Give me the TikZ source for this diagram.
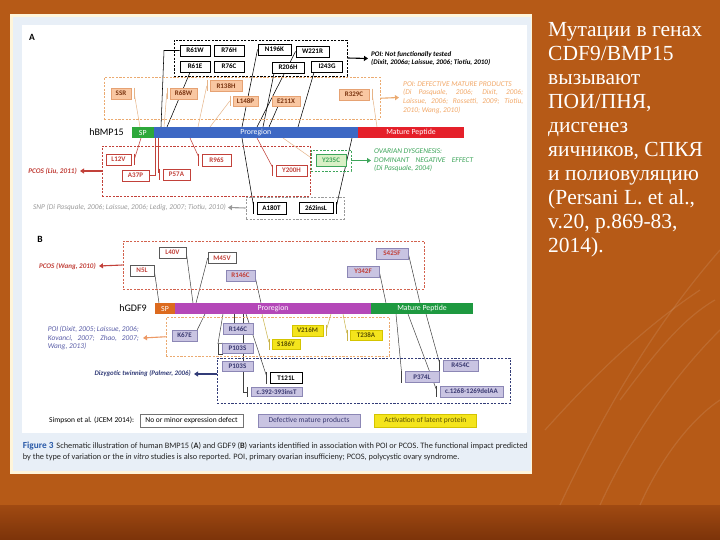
\documentclass[tikz,border=0pt]{standalone}
\usepackage{fontspec}
\setmainfont{Carlito}
\newfontfamily\rufont{Liberation Serif}
\usetikzlibrary{arrows.meta}
\pgfdeclarelayer{bg}\pgfdeclarelayer{conn}
\pgfsetlayers{bg,conn,main}
\definecolor{bgTop}{HTML}{B65A17}
\definecolor{bgMid}{HTML}{CD6C1E}
\definecolor{bgBand}{HTML}{A04A12}
\definecolor{bgBot}{HTML}{7C3309}
\definecolor{cream}{HTML}{FFF5DA}
\definecolor{pblue}{HTML}{E8EFF7}
\definecolor{spG}{HTML}{2DA83A}
\definecolor{proBl}{HTML}{3D68C4}
\definecolor{matRd}{HTML}{E5202A}
\definecolor{spO}{HTML}{DC6A1E}
\definecolor{proM}{HTML}{B447B8}
\definecolor{matG}{HTML}{1E9940}
\definecolor{oFill}{HTML}{F9C7A2}
\definecolor{oBord}{HTML}{E6A273}
\definecolor{oTxt}{HTML}{7A3410}
\definecolor{oDash}{HTML}{EBAA70}
\definecolor{oLine}{HTML}{E6B488}
\definecolor{oText}{HTML}{F2A868}
\definecolor{rC}{HTML}{C2413A}
\definecolor{rB}{HTML}{D2624E}
\definecolor{gC}{HTML}{3DA55A}
\definecolor{gFill}{HTML}{D9F0C6}
\definecolor{snpC}{HTML}{9A9A9A}
\definecolor{lavF}{HTML}{C9C4E2}
\definecolor{lavB}{HTML}{8C87B5}
\definecolor{lavT}{HTML}{3B3A72}
\definecolor{yelF}{HTML}{F4E41C}
\definecolor{yelB}{HTML}{D4C400}
\definecolor{yelT}{HTML}{5C5200}
\definecolor{yLine}{HTML}{C9B347}
\definecolor{navy}{HTML}{323C78}
\definecolor{poiB}{HTML}{5A5EA8}
\definecolor{capB}{HTML}{2A5AA8}
\begin{document}
\begin{tikzpicture}[x=1pt,y=-1pt,
  bx/.style 2 args={minimum width=#1pt, minimum height=#2pt},
  lab/.style={inner sep=0pt, font=\fontsize{7}{7.5}\selectfont\bfseries},
  mb/.style={lab, draw=black, line width=0.9pt, fill=white, text=black},
  ob/.style={lab, draw=oBord, line width=0.5pt, fill=oFill, text=oTxt},
  rb/.style={lab, draw=rC, line width=0.6pt, fill=white, text=rC},
  wb/.style={lab, draw=black!65, line width=0.6pt, fill=white, text=rC},
  lb/.style={lab, draw=lavB, line width=0.6pt, fill=lavF, text=lavT},
  lbr/.style={lb, text=rC},
  yb/.style={lab, draw=yelB, line width=0.5pt, fill=yelF, text=yelT},
  bar/.style={inner sep=0pt, minimum height=11pt, text=white, font=\fontsize{7.8}{8}\selectfont},
  frame/.style={inner sep=0pt, dashed, dash pattern=on 2.2pt off 1.4pt},
  kl/.style={line width=0.55pt, black},
  ol/.style={line width=0.5pt, oLine},
  rl/.style={line width=0.55pt, rC},
  gl/.style={line width=0.5pt, black!75},
  yl/.style={line width=0.5pt, yLine},
  arr/.style={line width=1.1pt, -{Triangle[length=4pt,width=5pt]}},
  ttl/.style={inner sep=0pt, font=\fontsize{7.4}{8.6}\selectfont\itshape},
  streak/.style={white, opacity=0.10, line width=1.2pt}
]
\useasboundingbox (0,0) rectangle (720,540);
\begin{pgfonlayer}{bg}
\shade[top color=bgTop, middle color=bgMid, bottom color=bgTop] (0,0) rectangle (720,505);
\shade[top color=bgBand, bottom color=bgBot] (0,505) rectangle (720,540);
\draw[streak] (560,505) .. controls (600,420) and (650,330) .. (720,250);
\draw[streak] (600,505) .. controls (630,440) and (670,380) .. (720,330);
\draw[streak] (545,430) .. controls (590,380) and (640,330) .. (700,290);
\draw[streak] (640,505) .. controls (660,460) and (690,420) .. (720,400);
\draw[streak] (620,400) .. controls (650,360) and (680,320) .. (715,300);
\fill[cream] (10,14) rectangle (532,474);
\fill[pblue] (12.5,17.5) rectangle (530.5,471);
\fill[white] (22,25) rectangle (527,433);
\end{pgfonlayer}

% ================= PANEL A =================
\node[font=\fontsize{9.5}{10}\selectfont\bfseries, inner sep=0] (labA) at (32,37) {A};

\node[frame, draw=black, line width=0.9pt, bx={173}{36}] (kD) at (260.5,58) {};
\node[mb, bx={30}{11}] (R61W) at (195,50.5) {R61W};
\node[mb, bx={30}{11}] (R76H) at (229,50.5) {R76H};
\node[mb, bx={30}{11}] (R61E) at (195,66.5) {R61E};
\node[mb, bx={30}{11}] (R76C) at (229,66.5) {R76C};
\node[mb, bx={33}{11}] (N196K) at (274.5,49.5) {N196K};
\node[mb, bx={33}{11}] (W221R) at (312.5,51.5) {W221R};
\node[mb, bx={32}{11}] (R206H) at (288,67.5) {R206H};
\node[mb, bx={31}{11}] (I243G) at (327,66.5) {I243G};
\node[anchor=west, align=left, inner sep=0, font=\fontsize{7}{8.8}\selectfont\bfseries\itshape] (kT) at (371,58.5)
  {POI: Not functionally tested\\(Dixit, 2006a; Laissue, 2006; Tiotiu, 2010)};
\draw[arr, black] (kD.east) -- ([xshift=-3pt]kT.west);

\node[frame, draw=oDash, line width=0.7pt, bx={276}{41.5}] (oD) at (242,98.25) {};
\node[ob, bx={20}{11}] (SSR) at (121,93.5) {SSR};
\node[ob, bx={27}{11}] (R68W) at (183.5,93.5) {R68W};
\node[ob, bx={32}{10.5}] (R138H) at (226,86) {R138H};
\node[ob, bx={25}{10}] (L148P) at (245.5,101) {L148P};
\node[ob, bx={28}{10}] (E211X) at (286,101) {E211X};
\node[ob, bx={30}{11}] (R329C) at (354,94.5) {R329C};
\node[ttl, anchor=west, align=left, text=oText] (oT) at (403,97.5)
  {POI: DEFECTIVE MATURE PRODUCTS\\\makebox[120pt][s]{(Di Pasquale, 2006; Dixit, 2006;}\\\makebox[120pt][s]{Laissue, 2006; Rossetti, 2009; Tiotiu,}\\2010; Wang, 2010)};
\draw[arr, oDash] (oD.east) -- ([xshift=-4pt]oT.west);

\node[bar, fill=spG, bx={21.5}{11}] (spA) at (142.75,132.5) {SP};
\node[bar, fill=proBl, bx={204.5}{11}] (proA) at (255.75,132.5) {Proregion};
\node[bar, fill=matRd, bx={106}{11}] (matA) at (411,132.5) {Mature Peptide};
\node[anchor=east, inner sep=0, font=\fontsize{10}{11}\selectfont] (hB) at (124,132.5) {hBMP15};

\node[frame, draw=rC, line width=0.8pt, bx={208}{50}] (rD) at (206,171) {};
\node[rb, bx={25}{11}] (L12V) at (118.5,159.5) {L12V};
\node[rb, bx={27}{11}] (A37P) at (135.5,175.5) {A37P};
\node[rb, bx={27}{11}] (P57A) at (176.5,174.5) {P57A};
\node[rb, bx={29}{12}] (R96S) at (216.5,160) {R96S};
\node[rb, bx={31}{11}] (Y200H) at (291.5,170.5) {Y200H};
\node[anchor=east, inner sep=0, text=rC, font=\fontsize{7.2}{8}\selectfont\bfseries\itshape] (pcA) at (77,171) {PCOS (Liu, 2011)};
\draw[arr, rC] (rD.west) -- ([xshift=3pt]pcA.east);

\node[frame, draw=gC, line width=0.7pt, bx={40}{21}] (gD) at (331,160.5) {};
\node[lab, draw=gC, line width=0.5pt, fill=gFill, text=gC, bx={30}{12}] (Y235C) at (331,160) {Y235C};
\node[ttl, anchor=west, align=left, text=gC] (gT) at (374,160.5)
  {OVARIAN DYSGENESIS:\\\makebox[99pt][s]{DOMINANT NEGATIVE EFFECT}\\(Di Pasquale, 2004)};
\draw[arr, gC] (gD.east) -- ([xshift=-3pt]gT.west);

\node[frame, draw=snpC, line width=0.7pt, bx={98}{22}] (snD) at (295,208) {};
\node[mb, bx={29}{12}] (A180T) at (271.5,208) {A180T};
\node[mb, bx={34}{11}] (I262) at (316,208) {262insL};
\node[ttl, anchor=east, text=snpC] (snT) at (226,207.5) {SNP (Di Pasquale, 2006; Laissue, 2006; Ledig, 2007; Tiotiu, 2010)};
\draw[arr, snpC] (snD.west) -- ([xshift=2pt]snT.east);

\begin{pgfonlayer}{conn}
% black connectors
\draw[kl] (R61W.west) -- (164,50.5) -- (161,127);
\draw[kl] ([xshift=-5pt]R61E.south) -- (167,127);
\draw[kl] (N196K.west) -- (242,127);
\draw[kl] (W221R.west) -- (257,127);
\draw[kl] ([xshift=-14pt]R206H.south) -- (263,127);
\draw[kl] ([xshift=-13pt]I243G.south) -- (298,127);
\draw[kl] ([xshift=-8pt]E211X.south) -- (269,127);
\draw[kl] (242,138) -- ([xshift=-3pt,yshift=2pt]A180T.west);
\draw[kl] ([xshift=-3pt]A180T.north west) -- ([xshift=-3pt]A180T.south west);
\draw[kl] (352,138) -- ([xshift=3pt,yshift=2pt]I262.east);
\draw[kl] ([xshift=3pt]I262.north east) -- ([xshift=3pt]I262.south east);
% orange connectors
\draw[ol] ([xshift=3pt]SSR.east) -- (140,127);
\draw[ol] ([xshift=3pt]SSR.north east) -- ([xshift=3pt]SSR.south east);
\draw[ol] ([xshift=-3pt]R68W.west) -- (164,127);
\draw[ol] ([xshift=-3pt]R68W.north west) -- ([xshift=-3pt]R68W.south west);
\draw[ol] ([xshift=-3pt]R138H.west) -- (198,127);
\draw[ol] ([xshift=-3pt]R138H.north west) -- ([xshift=-3pt]R138H.south west);
\draw[ol] ([xshift=-3pt]L148P.west) -- (210,127);
\draw[ol] ([xshift=-3pt]L148P.north west) -- ([xshift=-3pt]L148P.south west);
\draw[ol] ([xshift=3pt]R329C.east) -- (377,127);
\draw[ol] ([xshift=3pt]R329C.north east) -- ([xshift=3pt]R329C.south east);
\draw[ol] (283,138) -- ([yshift=3pt]gD.west);
% red connectors
\draw[rl] (141,138) -- ([xshift=3pt]L12V.east);
\draw[rl] ([xshift=3pt]L12V.north east) -- ([xshift=3pt]L12V.south east);
\draw[rl] (155,138) |- (A37P.east);
\draw[rl] (158,138) |- ([xshift=-3pt,yshift=2pt]P57A.west);
\draw[rl] ([xshift=-3pt]P57A.north west) -- ([xshift=-3pt]P57A.south west);
\draw[rl] (190,138) -- ([xshift=-3pt,yshift=3pt]R96S.west);
\draw[rl] ([xshift=-3pt]R96S.north west) -- ([xshift=-3pt]R96S.south west);
\draw[rl] (257,138) -- ([xshift=-3pt,yshift=3pt]Y200H.west);
\draw[rl] ([xshift=-3pt]Y200H.north west) -- ([xshift=-3pt]Y200H.south west);
\end{pgfonlayer}

% ================= PANEL B =================
\node[font=\fontsize{9.5}{10}\selectfont\bfseries, inner sep=0] (labB) at (40,239) {B};

\node[frame, draw=rB, line width=0.8pt, bx={301}{48}] (rD2) at (273.5,265) {};
\node[wb, bx={24}{11}] (N5L) at (142,270.5) {N5L};
\node[wb, bx={27}{11}] (L40V) at (172.5,252.5) {L40V};
\node[wb, bx={28}{10.5}] (M45V) at (222,258) {M45V};
\node[lbr, bx={29}{11}] (R146Ct) at (240.5,275.5) {R146C};
\node[lbr, bx={32}{11}] (S425F) at (392,253.5) {S425F};
\node[lbr, bx={32}{11}] (Y342F) at (363,271.5) {Y342F};
\node[anchor=east, inner sep=0, text=rC, font=\fontsize{7.1}{8}\selectfont\bfseries\itshape] (pcB) at (96,266) {PCOS (Wang, 2010)};
\draw[arr, rC] (rD2.west) -- ([xshift=3pt]pcB.east);

\node[bar, fill=spO, bx={20}{11}] (spB) at (165,308.5) {SP};
\node[bar, fill=proM, bx={196}{11}] (proB) at (273,308.5) {Proregion};
\node[bar, fill=matG, bx={102}{11}] (matB) at (422,308.5) {Mature Peptide};
\node[anchor=east, inner sep=0, font=\fontsize{10}{11}\selectfont] (hG) at (147,308.5) {hGDF9};

\node[frame, draw=oDash, line width=0.8pt, bx={223.5}{38.5}] (oD2) at (277.75,336.75) {};
\node[lb, bx={25}{11}] (K67E) at (184.5,335.5) {K67E};
\node[lb, bx={30}{10.5}] (R146Cl) at (238,329) {R146C};
\node[lb, bx={31}{10}] (P103Su) at (237.5,348.5) {P103S};
\node[yb, bx={28}{10.5}] (S186Y) at (286,344) {S186Y};
\node[yb, bx={31}{11}] (V216M) at (307.5,330.5) {V216M};
\node[yb, bx={32}{10.5}] (T238A) at (366,335) {T238A};
\node[ttl, anchor=east, align=left, text=poiB] (poiT) at (139,338)
  {\makebox[91pt][s]{POI (Dixit, 2005; Laissue, 2006;}\\\makebox[91pt][s]{Kovanci, 2007; Zhao, 2007;}\\Wang, 2013)};
\draw[arr, oDash!90!red] (oD2.west) -- ([xshift=4pt]poiT.east);

\node[frame, draw=navy, line width=0.8pt, bx={293.5}{45}] (nD) at (363.75,380.5) {};
\node[lb, bx={31}{10}] (P103Sl) at (237.5,366) {P103S};
\node[mb, bx={32}{10.5}] (T121L) at (286,378) {T121L};
\node[lb, bx={51}{9.5}] (c392) at (276.5,392) {c.392-393insT};
\node[lb, bx={35}{11}] (R454C) at (460.5,365.5) {R454C};
\node[lb, bx={34}{10.5}] (P374L) at (422,377) {P374L};
\node[lb, bx={63}{11}] (c1268) at (471.5,391.5) {c.1268-1269delAA};
\node[anchor=east, inner sep=0, text=navy, font=\fontsize{6.9}{8}\selectfont\bfseries\itshape] (dzT) at (191,374) {Dizygotic twinning (Palmer, 2006)};
\draw[arr, navy] ([yshift=6.5pt]nD.west) -- ([xshift=3pt]dzT.east);

\begin{pgfonlayer}{conn}
\draw[gl] (N5L.east) -- (159,303);
\draw[gl] (L40V.east) -- (193,303);
\draw[gl] (M45V.west) -- (196,303);
\draw[gl] ([yshift=-2pt]R146Ct.east) -- (261,303);
\draw[gl] (Y342F.east) -- (386,303);
\draw[gl] (S425F.east) -- (420,303);
\draw[gl] (396,314) -- ([xshift=-3pt,yshift=3pt]P374L.west);
\draw[gl] ([xshift=-3pt]P374L.north west) -- ([xshift=-3pt]P374L.south west);
\draw[gl] (408,314) -- ([xshift=-3pt,yshift=1pt]c1268.west);
\draw[gl] ([xshift=-3pt]c1268.north west) -- ([xshift=-3pt]c1268.south west);
\draw[gl] (426,314) -- ([xshift=-3pt,yshift=2pt]R454C.west);
\draw[gl] ([xshift=-3pt]R454C.north west) -- ([xshift=-3pt]R454C.south west);
\draw[gl] (K67E.north east) -- (205,314);
\draw[gl] (223,314) -- (218,343.5) -- ([xshift=1pt]P103Su.north west);
\draw[gl] (218,343.5) |- ([xshift=1pt]P103Su.south west);
\draw[gl] (234,314) -- ([xshift=-4pt]R146Cl.north);
\draw[gl] (243,314) |- ([xshift=-3pt]c392.west);
\draw[gl] ([xshift=-3pt]c392.north west) -- ([xshift=-3pt]c392.south west);
\draw[gl] (246,314) -- ([xshift=-3pt,yshift=2pt]T121L.west);
\draw[gl] ([xshift=-3pt]T121L.north west) -- ([xshift=-3pt]T121L.south west);
\draw[yl] (262,314) -- ([xshift=-3pt,yshift=2pt]S186Y.west);
\draw[yl] ([xshift=-3pt]S186Y.north west) -- ([xshift=-3pt]S186Y.south west);
\draw[yl] ([xshift=3pt]V216M.east) -- (331,314);
\draw[yl] ([xshift=3pt]V216M.north east) -- ([xshift=3pt]V216M.south east);
\draw[yl] (343,314) -- ([xshift=-3pt,yshift=2pt]T238A.west);
\draw[yl] ([xshift=-3pt]T238A.north west) -- ([xshift=-3pt]T238A.south west);
\end{pgfonlayer}

% legend
\node[anchor=west, inner sep=0, font=\fontsize{7.5}{8}\selectfont] (simp) at (49,420.5) {Simpson et al. (JCEM 2014):};
\node[draw=black!55, line width=0.8pt, fill=white, inner sep=0, bx={103}{13}, font=\fontsize{7.5}{8}\selectfont] (lg1) at (191.5,420.5) {No or minor expression defect};
\node[draw=lavB, line width=0.8pt, fill=lavF, inner sep=0, bx={102}{13}, font=\fontsize{7.5}{8}\selectfont, text=lavT] (lg2) at (309,420.5) {Defective mature products};
\node[draw=yelB, line width=0.6pt, fill=yelF, inner sep=0, bx={102.5}{13}, font=\fontsize{7.5}{8}\selectfont, text=yelT] (lg3) at (425.25,420.5) {Activation of latent protein};

% caption
\node[anchor=west, inner sep=0, font=\fontsize{8.3}{9}\selectfont, text=black!85] (cap1) at (22.7,446)
  {\makebox[505pt][s]{\textcolor{capB}{\fontsize{9.3}{10}\selectfont\bfseries Figure 3}\hspace{3pt}Schematic illustration of human BMP15 (\textbf{A}) and GDF9 (\textbf{B}) variants identified in association with POI or PCOS. The functional impact predicted}};
\node[anchor=west, inner sep=0, font=\fontsize{8.3}{9}\selectfont, text=black!85] (cap2) at (22.7,457.5)
  {by the type of variation or the \textit{in vitro} studies is also reported. POI, primary ovarian insufficieny; PCOS, polycystic ovary syndrome.};

% Russian text
\node[anchor=north west, align=left, inner sep=0, text=white, font=\rufont\fontsize{21.5}{24}\selectfont] (ru) at (548,22)
  {Мутации в генах\\CDF9/BMP15\\вызывают\\ПОИ/ПНЯ,\\дисгенез\\яичников, СПКЯ\\и полиовуляцию\\(Persani L. et al.,\\v.20, p.869-83,\\2014).};
\end{tikzpicture}
\end{document}
